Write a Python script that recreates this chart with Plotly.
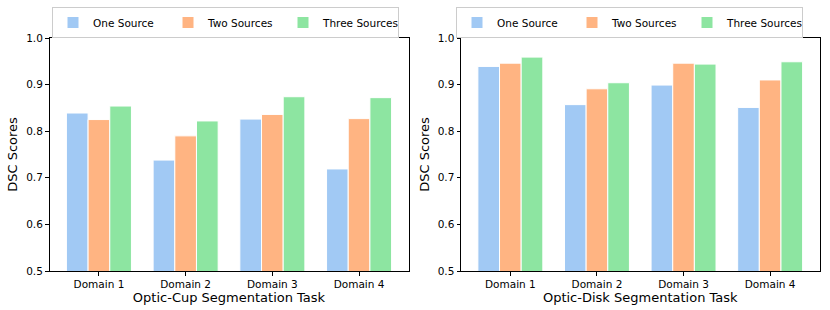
import plotly.graph_objects as go

domains = ["Domain 1", "Domain 2", "Domain 3", "Domain 4"]
series_names = ["One Source", "Two Sources", "Three Sources"]
colors = ["#a1c9f4", "#ffb482", "#8de5a1"]

cup_one = [0.839, 0.738, 0.826, 0.719]
cup_two = [0.825, 0.790, 0.836, 0.827]
cup_three = [0.854, 0.822, 0.874, 0.872]

disk_one = [0.939, 0.857, 0.899, 0.851]
disk_two = [0.946, 0.891, 0.946, 0.910]
disk_three = [0.959, 0.904, 0.944, 0.949]

cup = [cup_one, cup_two, cup_three]
disk = [disk_one, disk_two, disk_three]

FONT = "DejaVu Sans"
fig = go.Figure()

for i, name in enumerate(series_names):
    fig.add_trace(go.Bar(x=domains, y=cup[i], name=name, marker=dict(color=colors[i], line=dict(color="white", width=1)),
                         xaxis="x", yaxis="y", legend="legend"))
for i, name in enumerate(series_names):
    fig.add_trace(go.Bar(x=domains, y=disk[i], name=name, marker=dict(color=colors[i], line=dict(color="white", width=1)),
                         xaxis="x2", yaxis="y2", legend="legend2"))

axis_common = dict(showline=True, linecolor="black", linewidth=1, mirror=True, ticks="outside", ticklen=3.5,
                   tickcolor="black", showgrid=False, zeroline=False, tickfont=dict(family=FONT, size=10.5, color="black"))

yax = dict(range=[0.5, 1.0], tickvals=[0.5, 0.6, 0.7, 0.8, 0.9, 1.0], tickformat=".1f",
           title=dict(text="DSC Scores", font=dict(family=FONT, size=13, color="black"), standoff=5), **axis_common)

leg_common = dict(orientation="h", xanchor="left", y=1 - 7 / 310, yanchor="top",
                  bordercolor="#cccccc", borderwidth=1, bgcolor="white", entrywidth=70, entrywidthmode="pixels",
                  font=dict(family=FONT, size=10.5), itemclick=False, tracegroupgap=0)

fig.update_layout(
    width=830, height=310,
    margin=dict(l=0, r=0, t=0, b=0, autoexpand=False),
    paper_bgcolor="white", plot_bgcolor="white",
    barmode="group", bargap=0.25, bargroupgap=0,
    font=dict(family=FONT, size=10.5, color="black"),
    xaxis=dict(domain=[49.5 / 830, 408.5 / 830], range=[-0.57, 3.57], anchor="y",
               title=dict(text="Optic-Cup Segmentation Task", font=dict(family=FONT, size=13, color="black"), standoff=2),
               **axis_common),
    yaxis=dict(domain=[1 - 271 / 310, 1 - 38 / 310], anchor="x", **yax),
    xaxis2=dict(domain=[461 / 830, 819.5 / 830], range=[-0.57, 3.57], anchor="y2",
                title=dict(text="Optic-Disk Segmentation Task", font=dict(family=FONT, size=13, color="black"), standoff=2),
                **axis_common),
    yaxis2=dict(domain=[1 - 271 / 310, 1 - 38 / 310], anchor="x2", **yax),
    legend=dict(x=52 / 830, **leg_common),
    legend2=dict(x=456 / 830, **leg_common),
)

fig.write_html("out.html", config={"displayModeBar": False},
               post_script="document.body.style.margin='0';document.body.style.overflow='hidden';")
